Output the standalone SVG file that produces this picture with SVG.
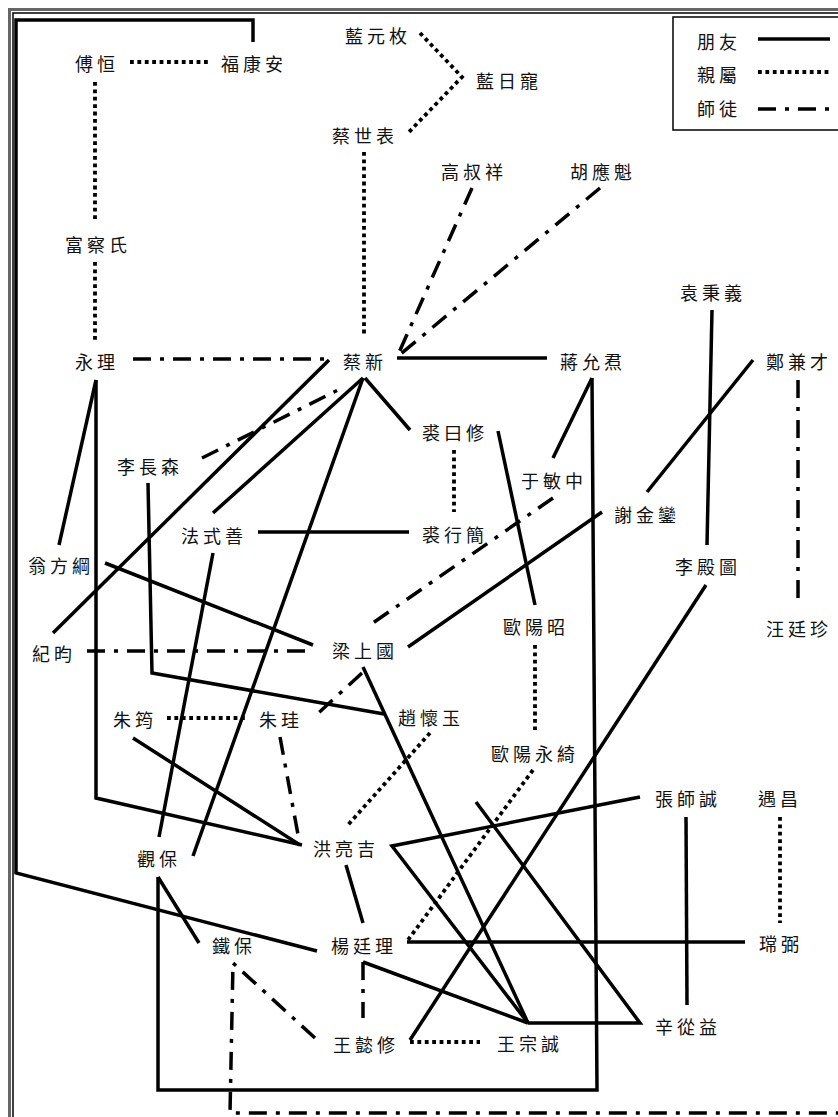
<svg xmlns="http://www.w3.org/2000/svg" width="838" height="1117" viewBox="0 0 838 1117">
<style>
text{font-family:"Noto Sans CJK TC","Noto Sans CJK SC",sans-serif;font-size:18px;letter-spacing:4px;text-anchor:middle;dominant-baseline:central;fill:#111}
.s{fill:none;stroke:#000;stroke-width:3.5;stroke-linejoin:miter}
.d{fill:none;stroke:#000;stroke-width:3.8;stroke-dasharray:3.8 3.6}
.m{fill:none;stroke:#000;stroke-width:3.5;stroke-dasharray:18 9 4 9}
</style>
<rect width="838" height="1117" fill="#fff"/>
<g id="frame">
<rect x="9.5" y="9.5" width="900" height="1200" fill="none" stroke="#666" stroke-width="3"/>
<rect x="13" y="13" width="900" height="1200" fill="none" stroke="#000" stroke-width="1.5"/>
</g>
<g id="legend">
<rect x="673" y="17" width="200" height="113" fill="none" stroke="#000" stroke-width="1.5"/>
<text x="719" y="41">朋友</text>
<text x="719" y="74">親屬</text>
<text x="719" y="108">師徒</text>
<line class="s" x1="758" y1="39" x2="830" y2="39"/>
<line class="d" x1="758" y1="72" x2="830" y2="72"/>
<line class="m" x1="758" y1="109" x2="834" y2="109" stroke-dasharray="13 13 3 13"/>
</g>
<g id="connectors">
<polyline class="s" points="253,42 253,20 16,20 16,873 317,951"/>
<polyline class="s" points="96,380 96,798 302,845"/>
<line class="s" x1="96" y1="380" x2="59" y2="545"/>
<line class="s" x1="53" y1="633" x2="329" y2="360"/>
<line class="s" x1="363" y1="378" x2="213" y2="513"/>
<line class="s" x1="363" y1="378" x2="193" y2="856"/>
<line class="s" x1="365" y1="378" x2="410" y2="430"/>
<line class="s" x1="397" y1="358" x2="547" y2="358"/>
<line class="s" x1="592" y1="378" x2="553" y2="458"/>
<polyline class="s" points="592,378 597,1090 158,1090 158,877"/>
<line class="s" x1="158" y1="877" x2="199" y2="943"/>
<line class="s" x1="498" y1="431" x2="535" y2="605"/>
<line class="s" x1="258" y1="532" x2="409" y2="532"/>
<line class="s" x1="213" y1="553" x2="159" y2="837"/>
<line class="s" x1="105" y1="563" x2="313" y2="645"/>
<polyline class="s" points="148,483 152,673 384,714"/>
<line class="s" x1="363" y1="667" x2="528" y2="1023"/>
<line class="s" x1="602" y1="512" x2="408" y2="647"/>
<line class="s" x1="753" y1="360" x2="647" y2="492"/>
<line class="s" x1="712" y1="310" x2="707" y2="545"/>
<line class="s" x1="706" y1="585" x2="410" y2="1040"/>
<polyline class="s" points="640,797 392,846 528,1023"/>
<line class="s" x1="346" y1="865" x2="363" y2="923"/>
<line class="s" x1="133" y1="738" x2="300" y2="845"/>
<line class="s" x1="407" y1="942" x2="745" y2="942"/>
<line class="s" x1="363" y1="962" x2="528" y2="1023"/>
<polyline class="s" points="476,802 640,1023 528,1023"/>
<line class="s" x1="686" y1="817" x2="687" y2="1005"/>

<line class="d" x1="130" y1="62" x2="208" y2="62"/>
<line class="d" x1="95" y1="82" x2="95" y2="220"/>
<line class="d" x1="95" y1="262" x2="95" y2="340"/>
<polyline class="d" points="420,33 462,77 408,133"/>
<line class="d" x1="364" y1="152" x2="364" y2="335"/>
<line class="d" x1="454" y1="450" x2="454" y2="512"/>
<line class="d" x1="535" y1="645" x2="535" y2="730"/>
<line class="d" x1="167" y1="718" x2="245" y2="718"/>
<line class="d" x1="430" y1="733" x2="347" y2="826"/>
<line class="d" x1="533" y1="770" x2="408" y2="940"/>
<line class="d" x1="410" y1="1042" x2="480" y2="1042"/>
<line class="d" x1="780" y1="817" x2="780" y2="923"/>

<line class="m" x1="472" y1="188" x2="397" y2="357"/>
<line class="m" x1="600" y1="188" x2="397" y2="357"/>
<line class="m" x1="133" y1="359" x2="328" y2="359"/>
<line class="m" x1="202" y1="458" x2="342" y2="388"/>
<line class="m" x1="87" y1="651" x2="312" y2="651"/>
<line class="m" x1="553" y1="498" x2="370" y2="625"/>
<line class="m" x1="362" y1="673" x2="313" y2="718"/>
<line class="m" x1="280" y1="737" x2="299" y2="840"/>
<line class="m" x1="798" y1="380" x2="798" y2="600"/>
<line class="m" x1="363" y1="962" x2="363" y2="1018"/>
<polyline class="m" points="315,1038 233,963 230,1113 840,1113"/>
</g>
<g id="n-fuheng"><text x="97" y="63">傅恒</text></g>
<g id="n-fukangan"><text x="254" y="63">福康安</text></g>
<g id="n-lanyuanmei"><text x="378" y="35">藍元枚</text></g>
<g id="n-lanrichong"><text x="509" y="80">藍日寵</text></g>
<g id="n-caishibiao"><text x="365" y="135">蔡世表</text></g>
<g id="n-gaoshuxiang"><text x="474" y="171">高叔祥</text></g>
<g id="n-huyingkui"><text x="603" y="171">胡應魁</text></g>
<g id="n-fuchashi"><text x="98" y="244">富察氏</text></g>
<g id="n-yuanbingyi"><text x="713" y="292">袁秉義</text></g>
<g id="n-yongli"><text x="97" y="361">永理</text></g>
<g id="n-caixin"><text x="365" y="361">蔡新</text></g>
<g id="n-jiangyunxun"><text x="593" y="361">蔣允焄</text></g>
<g id="n-zhengjiancai"><text x="799" y="361">鄭兼才</text></g>
<g id="n-qiuyuexiu"><text x="455" y="432">裘曰修</text></g>
<g id="n-lichangsen"><text x="150" y="466">李長森</text></g>
<g id="n-yuminzhong"><text x="554" y="480">于敏中</text></g>
<g id="n-xiejinluan"><text x="647" y="514">謝金鑾</text></g>
<g id="n-fashishan"><text x="214" y="535">法式善</text></g>
<g id="n-qiuxingjian"><text x="455" y="534">裘行簡</text></g>
<g id="n-wengfanggang"><text x="61" y="565">翁方綱</text></g>
<g id="n-lidiantu"><text x="708" y="566">李殿圖</text></g>
<g id="n-ouyangzhao"><text x="536" y="626">歐陽昭</text></g>
<g id="n-wangtingzhen"><text x="799" y="628">汪廷珍</text></g>
<g id="n-jiyun"><text x="54" y="653">紀昀</text></g>
<g id="n-liangshangguo"><text x="365" y="650">梁上國</text></g>
<g id="n-zhuyun"><text x="135" y="719">朱筠</text></g>
<g id="n-zhugui"><text x="281" y="719">朱珪</text></g>
<g id="n-zhaohuaiyu"><text x="431" y="717">趙懷玉</text></g>
<g id="n-ouyangyongqi"><text x="535" y="753">歐陽永綺</text></g>
<g id="n-zhangshicheng"><text x="688" y="798">張師誠</text></g>
<g id="n-yuchang"><text x="780" y="798">遇昌</text></g>
<g id="n-honglianji"><text x="346" y="848">洪亮吉</text></g>
<g id="n-guanbao"><text x="159" y="858">觀保</text></g>
<g id="n-tiebao"><text x="234" y="945">鐵保</text></g>
<g id="n-yangtingli"><text x="364" y="945">楊廷理</text></g>
<g id="n-changbi"><text x="781" y="943">瑺弼</text></g>
<g id="n-xincongyi"><text x="688" y="1026">辛從益</text></g>
<g id="n-wangyixiu"><text x="366" y="1044">王懿修</text></g>
<g id="n-wangzongcheng"><text x="530" y="1043">王宗誠</text></g>
</svg>
